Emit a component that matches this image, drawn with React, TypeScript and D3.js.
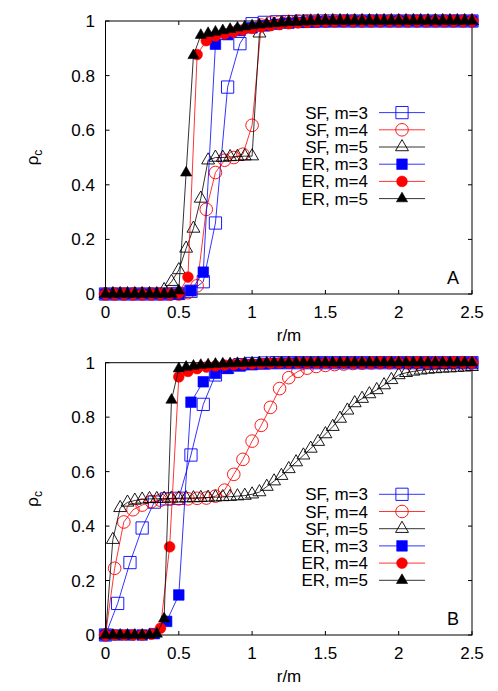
import React from 'react'
import * as d3 from 'd3'

const WIDTH = 498
const HEIGHT = 691
const FONT = '"Liberation Sans", Arial, Helvetica, sans-serif'

// r/m grids, one per m (r goes in steps of 1/4)
const R_M3 = [0, 0.083, 0.167, 0.25, 0.333, 0.417, 0.5, 0.583, 0.667, 0.75, 0.833, 0.917, 1,
  1.083, 1.167, 1.25, 1.333, 1.417, 1.5, 1.583, 1.667, 1.75, 1.833, 1.917, 2,
  2.083, 2.167, 2.25, 2.333, 2.417, 2.5]
const R_M4 = [0, 0.0625, 0.125, 0.1875, 0.25, 0.3125, 0.375, 0.4375, 0.5, 0.5625, 0.625, 0.6875,
  0.75, 0.8125, 0.875, 0.9375, 1, 1.0625, 1.125, 1.1875, 1.25, 1.3125, 1.375, 1.4375, 1.5,
  1.5625, 1.625, 1.6875, 1.75, 1.8125, 1.875, 1.9375, 2, 2.0625, 2.125, 2.1875, 2.25,
  2.3125, 2.375, 2.4375, 2.5]
const R_M5 = [0, 0.05, 0.1, 0.15, 0.2, 0.25, 0.3, 0.35, 0.4, 0.45, 0.5, 0.55, 0.6, 0.65, 0.7,
  0.75, 0.8, 0.85, 0.9, 0.95, 1, 1.05, 1.1, 1.15, 1.2, 1.25, 1.3, 1.35, 1.4, 1.45, 1.5,
  1.55, 1.6, 1.65, 1.7, 1.75, 1.8, 1.85, 1.9, 1.95, 2, 2.05, 2.1, 2.15, 2.2, 2.25, 2.3,
  2.35, 2.4, 2.45, 2.5]

// panel A
const SF3_A = [0, 0, 0, 0, 0, 0, 0.002, 0.01, 0.045, 0.26, 0.758, 0.917, 0.99, 0.995, 0.997, 0.998,
  0.999, 0.999, 1, 1, 1, 1, 1, 1, 1, 1, 1, 1, 1, 1, 1]
const SF4_A = [0, 0, 0, 0, 0, 0, 0, 0, 0, 0.005, 0.03, 0.31, 0.445, 0.49, 0.5, 0.512, 0.618, 0.985,
  0.993, 0.996, 0.998, 0.999, 1, 1, 1, 1, 1, 1, 1, 1, 1, 1, 1, 1, 1, 1, 1, 1, 1, 1, 1]
const SF5_A = [0, 0, 0, 0, 0, 0, 0, 0, 0.015, 0.045, 0.088, 0.167, 0.24, 0.35, 0.49, 0.5, 0.5,
  0.502, 0.503, 0.505, 0.505, 0.955, 0.98, 0.988, 0.992, 0.995, 0.997, 0.998, 0.999,
  1, 1, 1, 1, 1, 1, 1, 1, 1, 1, 1, 1, 1, 1, 1, 1, 1, 1, 1, 1, 1, 1]
const ER3_A = [0, 0, 0, 0, 0, 0, 0, 0.012, 0.08, 0.915, 0.95, 0.965, 0.975, 0.982, 0.988, 0.992,
  0.995, 0.997, 0.998, 0.999, 1, 1, 1, 1, 1, 1, 1, 1, 1, 1, 1]
const ER4_A = [0, 0, 0, 0, 0, 0, 0, 0, 0.003, 0.062, 0.877, 0.928, 0.945, 0.953, 0.96, 0.967,
  0.973, 0.978, 0.983, 0.987, 0.99, 0.993, 0.995, 0.997, 0.998, 0.999,
  1, 1, 1, 1, 1, 1, 1, 1, 1, 1, 1, 1, 1, 1, 1]
const ER5_A = [0, 0, 0, 0, 0, 0, 0, 0, 0, 0, 0.012, 0.444, 0.874, 0.948, 0.955, 0.96, 0.965, 0.97,
  0.975, 0.979, 0.983, 0.986, 0.989, 0.991, 0.993, 0.995, 0.996, 0.997, 0.998, 0.999,
  1, 1, 1, 1, 1, 1, 1, 1, 1, 1, 1, 1, 1, 1, 1, 1, 1, 1, 1, 1, 1]

// panel B
const SF3_B = [0, 0.116, 0.266, 0.393, 0.488, 0.5, 0.502, 0.661, 0.847, 0.955, 0.983, 0.993, 0.997,
  0.999, 1, 1, 1, 1, 1, 1, 1, 1, 1, 1, 1, 1, 1, 1, 1, 1, 1]
const SF4_B = [0, 0.245, 0.415, 0.46, 0.477, 0.49, 0.495, 0.5, 0.5, 0.5, 0.502, 0.503, 0.51, 0.532,
  0.59, 0.645, 0.712, 0.77, 0.836, 0.905, 0.945, 0.968, 0.98, 0.986, 0.99, 0.993, 0.995,
  0.997, 0.998, 0.999, 1, 1, 1, 1, 1, 1, 1, 1, 1, 1, 1]
const SF5_B = [0, 0.35, 0.467, 0.487, 0.494, 0.498, 0.5, 0.5, 0.501, 0.502, 0.502, 0.503, 0.503,
  0.504, 0.505, 0.506, 0.507, 0.508, 0.51, 0.512, 0.517, 0.525, 0.545, 0.565, 0.585, 0.61,
  0.635, 0.66, 0.685, 0.71, 0.738, 0.765, 0.795, 0.825, 0.852, 0.868, 0.885, 0.9, 0.918,
  0.937, 0.955, 0.963, 0.968, 0.972, 0.975, 0.977, 0.979, 0.98, 0.982, 0.983, 0.985]
const ER3_B = [0, 0, 0, 0, 0.005, 0.05, 0.147, 0.855, 0.93, 0.961, 0.979, 0.988, 0.993, 0.996,
  0.998, 0.999, 1, 1, 1, 1, 1, 1, 1, 1, 1, 1, 1, 1, 1, 1, 1]
const ER4_B = [0, 0, 0, 0, 0, 0.003, 0.025, 0.324, 0.948, 0.968, 0.978, 0.984, 0.988, 0.991,
  0.993, 0.995, 0.996, 0.997, 0.998, 0.999, 1, 1, 1, 1, 1, 1, 1, 1, 1, 1, 1, 1, 1, 1, 1,
  1, 1, 1, 1, 1, 1]
const ER5_B = [0, 0, 0, 0, 0, 0, 0, 0.004, 0.06, 0.863, 0.978, 0.984, 0.988, 0.991, 0.993, 0.995,
  0.996, 0.997, 0.998, 0.999, 1, 1, 1, 1, 1, 1, 1, 1, 1, 1, 1, 1, 1, 1, 1, 1, 1, 1, 1, 1,
  1, 1, 1, 1, 1, 1, 1, 1, 1, 1, 1]

const LABELS = ['SF, m=3', 'SF, m=4', 'SF, m=5', 'ER, m=3', 'ER, m=4', 'ER, m=5']
const X_TICKS = [0, 0.5, 1, 1.5, 2, 2.5]
const Y_TICKS = [0, 0.2, 0.4, 0.6, 0.8, 1]

const COLORS = ['#0000ff', '#ff0000', '#000000']
// marker style per series: shape, filled
const STYLES = [
  { shape: d3.symbolSquare, filled: false, size: 150 },
  { shape: d3.symbolCircle, filled: false, size: 125 },
  { shape: d3.symbolTriangle, filled: false, size: 72 },
  { shape: d3.symbolSquare, filled: true, size: 112 },
  { shape: d3.symbolCircle, filled: true, size: 90 },
  { shape: d3.symbolTriangle, filled: true, size: 54 },
]

const PLOT_LEFT = 105.5
const PLOT_RIGHT = 472

function makeSeries(sf3, sf4, sf5, er3, er4, er5) {
  const grids = [R_M3, R_M4, R_M5]
  return [sf3, sf4, sf5, er3, er4, er5].map((ys, i) => ({
    label: LABELS[i],
    color: COLORS[i % 3],
    style: STYLES[i],
    points: ys.map((y, k) => [grids[i % 3][k], y]),
  }))
}

function Marker({ style, color, x, y }) {
  const path = d3.symbol().type(style.shape).size(style.size)()
  return (<path
    d={path}
    transform={`translate(${x},${y})`}
    fill={style.filled ? color : 'none'}
    stroke={color}
    strokeWidth={style.filled ? 0.6 : 0.9}
  />)
}

function Panel({ top, bottom, letter, legendTop }) {
  const series = letter === 'A'
    ? makeSeries(SF3_A, SF4_A, SF5_A, ER3_A, ER4_A, ER5_A)
    : makeSeries(SF3_B, SF4_B, SF5_B, ER3_B, ER4_B, ER5_B)

  const x = d3.scaleLinear().domain([0, 2.5]).range([PLOT_LEFT, PLOT_RIGHT])
  const y = d3.scaleLinear().domain([0, 1]).range([bottom, top])
  const line = d3.line().x((d) => x(d[0])).y((d) => y(d[1]))
  const tick = 4

  return (<g fontFamily={FONT}>
    {/* frame + mirrored inward ticks */}
    <rect x={PLOT_LEFT} y={top} width={PLOT_RIGHT - PLOT_LEFT} height={bottom - top}
      fill="none" stroke="#000" strokeWidth={1} />
    {X_TICKS.map((t) => (<g key={'x' + t}>
      <line x1={x(t)} x2={x(t)} y1={bottom} y2={bottom - tick} stroke="#000" />
      <line x1={x(t)} x2={x(t)} y1={top} y2={top + tick} stroke="#000" />
      <text x={x(t)} y={bottom + 24} fontSize={17} textAnchor="middle">{t}</text>
    </g>))}
    {Y_TICKS.map((t) => (<g key={'y' + t}>
      <line x1={PLOT_LEFT} x2={PLOT_LEFT + tick} y1={y(t)} y2={y(t)} stroke="#000" />
      <line x1={PLOT_RIGHT} x2={PLOT_RIGHT - tick} y1={y(t)} y2={y(t)} stroke="#000" />
      <text x={95} y={y(t) + 6} fontSize={17} textAnchor="end">{t}</text>
    </g>))}

    {/* data, gnuplot order: line then points per series */}
    {series.map((s) => (<g key={s.label}>
      <path d={line(s.points)} fill="none" stroke={s.color} strokeWidth={0.8} />
      {s.points.map((p, k) => (
        <Marker key={k} style={s.style} color={s.color} x={x(p[0])} y={y(p[1])} />
      ))}
    </g>))}

    {/* legend */}
    {series.map((s, i) => {
      const ly = legendTop + i * 17.2
      return (<g key={'leg' + i}>
        <text x={368} y={ly + 6} fontSize={17} textAnchor="end">{s.label}</text>
        <line x1={379} x2={425} y1={ly} y2={ly} stroke={s.color} strokeWidth={0.8} />
        <Marker style={s.style} color={s.color} x={402} y={ly} />
      </g>)
    })}

    <text x={453} y={bottom - 10} fontSize={18} textAnchor="middle">{letter}</text>
    <text x={289} y={bottom + 47} fontSize={17} textAnchor="middle">r/m</text>
    <text transform={`translate(38,${(top + bottom) / 2}) rotate(-90)`} fontSize={17}
      textAnchor="middle">ρ<tspan fontSize={12} dy={4}>c</tspan></text>
  </g>)
}

export default function App() {
  return (<svg width={WIDTH} height={HEIGHT}
    style={{ position: 'absolute', left: 0, top: 0, background: '#fff' }}>
    <Panel top={21} bottom={294} letter="A" legendTop={112.6} />
    <Panel top={362.7} bottom={635} letter="B" legendTop={494.3} />
  </svg>)
}
